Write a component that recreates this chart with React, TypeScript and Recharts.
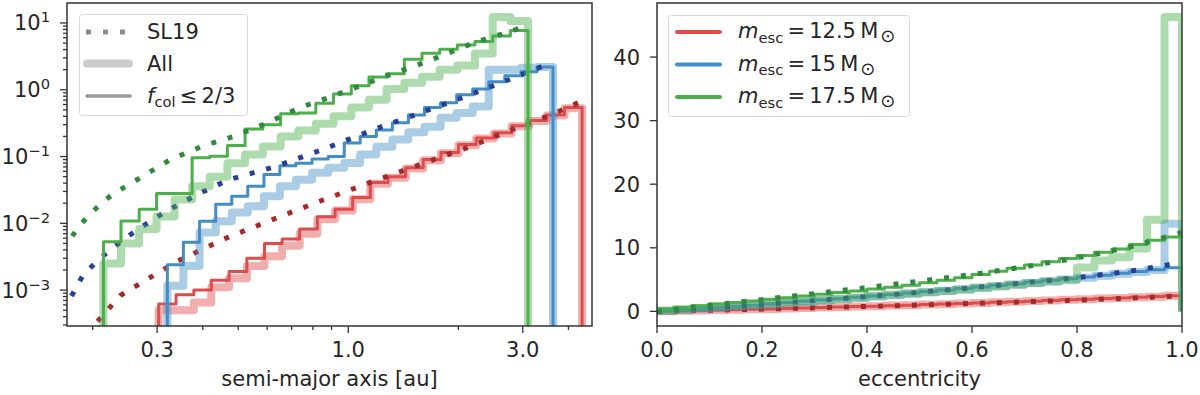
import React from "react";
import { LineChart, Line, XAxis, YAxis } from "recharts";

const FONT = "'DejaVu Sans', 'Liberation Sans', sans-serif";
const INK = "#262626";
const SPINE = "#333333";

const RED = "#de4c4c";
const RED_DARK = "#a32a2a";
const BLUE = "#428dc6";
const BLUE_DARK = "#283f99";
const GREEN = "#4caf4c";
const GREEN_DARK = "#2f8a3f";

// ---- left panel: semi-major axis histograms (log-log) ----
const RED_EDGES = [0.303, 0.338, 0.378, 0.422, 0.472, 0.528, 0.59, 0.659, 0.736, 0.823, 0.92, 1.028, 1.149, 1.284, 1.435, 1.603, 1.792, 2.002, 2.238, 2.501, 2.795, 3.123, 3.49, 3.901, 4.359];
const BLUE_EDGES = [0.32, 0.354, 0.392, 0.434, 0.48, 0.531, 0.588, 0.65, 0.719, 0.796, 0.881, 0.975, 1.078, 1.193, 1.32, 1.46, 1.616, 1.788, 1.979, 2.189, 2.422, 2.68, 2.966, 3.281, 3.631];
const GREEN_EDGES = [0.214, 0.239, 0.268, 0.299, 0.335, 0.374, 0.418, 0.467, 0.522, 0.584, 0.653, 0.73, 0.815, 0.911, 1.019, 1.139, 1.273, 1.423, 1.591, 1.778, 1.987, 2.221, 2.483, 2.776, 3.102];

const RED_ALL_A = [5.0e-4, 5.0e-4, 6.5e-4, 1.1e-3, 1.5e-3, 2.3e-3, 3.2e-3, 4.6e-3, 7.0e-3, 0.0115, 0.0155, 0.023, 0.039, 0.048, 0.066, 0.088, 0.112, 0.148, 0.186, 0.222, 0.285, 0.34, 0.41, 0.53];
const RED_COL_A = [6.2e-4, 8.5e-4, 1.0e-3, 1.4e-3, 1.9e-3, 3.0e-3, 5.0e-3, 5.8e-3, 8.2e-3, 0.0125, 0.0162, 0.0244, 0.041, 0.05, 0.068, 0.09, 0.115, 0.151, 0.19, 0.227, 0.29, 0.345, 0.42, 0.54];
const BLUE_ALL_A = [1.16e-3, 2.3e-3, 7.3e-3, 0.0107, 0.0145, 0.018, 0.0255, 0.036, 0.045, 0.057, 0.068, 0.08, 0.107, 0.14, 0.18, 0.23, 0.28, 0.38, 0.45, 0.56, 1.99, 1.99, 2.13, 2.2];
const BLUE_COL_A = [2.4e-3, 5.2e-3, 0.0107, 0.0193, 0.0255, 0.036, 0.054, 0.073, 0.079, 0.092, 0.1, 0.16, 0.2, 0.25, 0.32, 0.42, 0.54, 0.64, 0.84, 1.03, 1.32, 1.62, 1.86, 2.2];
const GREEN_ALL_A = [0.0025, 0.005, 0.0082, 0.0127, 0.0228, 0.036, 0.05, 0.079, 0.107, 0.141, 0.199, 0.245, 0.31, 0.4, 0.54, 0.71, 1.03, 1.27, 1.56, 1.99, 2.3, 3.5, 12.3, 10.7];
const GREEN_COL_A = [0.0053, 0.0108, 0.0162, 0.028, 0.028, 0.096, 0.101, 0.146, 0.259, 0.3, 0.438, 0.449, 0.63, 0.86, 1.15, 1.55, 1.73, 2.87, 3.53, 4.05, 4.69, 5.26, 6.39, 7.68];

const RED_SL19_X = [0.192, 0.203, 0.238, 0.288, 0.341, 0.456, 0.624, 0.839, 1.148, 1.573, 2.115, 2.896, 3.5, 4.26];
const RED_SL19_Y = [2.2e-4, 3.1e-4, 8.3e-4, 1.56e-3, 2.7e-3, 5.8e-3, 0.0115, 0.0216, 0.041, 0.076, 0.136, 0.27, 0.4, 0.64];
const BLUE_SL19_X = [0.165, 0.171, 0.189, 0.221, 0.262, 0.313, 0.386, 0.471, 0.639, 0.875, 1.173, 1.573, 2.153, 2.893, 3.564];
const BLUE_SL19_Y = [5.0e-4, 6.5e-4, 1.75e-3, 3.86e-3, 7.7e-3, 0.0144, 0.027, 0.045, 0.072, 0.135, 0.253, 0.449, 0.842, 1.58, 2.5];
const GREEN_SL19_X = [0.165, 0.17, 0.181, 0.194, 0.21, 0.226, 0.27, 0.326, 0.398, 0.486, 0.6, 0.732, 0.903, 1.223, 1.641, 2.249, 2.77, 3.08];
const GREEN_SL19_Y = [4.0e-3, 4.9e-3, 8.1e-3, 0.0128, 0.0193, 0.027, 0.048, 0.09, 0.142, 0.2, 0.318, 0.533, 0.794, 1.49, 2.64, 5.26, 7.4, 9.3];

const A_TICKS = [0.2, 0.3, 0.4, 0.5, 0.6, 0.7, 0.8, 0.9, 1, 2, 3, 4];
const A_MAJOR = [0.3, 1, 3];
const N_TICKS = [3e-4, 4e-4, 5e-4, 6e-4, 7e-4, 8e-4, 9e-4, 1e-3, 2e-3, 3e-3, 4e-3, 5e-3, 6e-3, 7e-3, 8e-3, 9e-3, 1e-2, 2e-2, 3e-2, 4e-2, 5e-2, 6e-2, 7e-2, 8e-2, 9e-2, 0.1, 0.2, 0.3, 0.4, 0.5, 0.6, 0.7, 0.8, 0.9, 1, 2, 3, 4, 5, 6, 7, 8, 9, 10];

// ---- right panel: eccentricity histograms ----
const E_EDGES = [0, 0.0333, 0.0667, 0.1, 0.1333, 0.1667, 0.2, 0.2333, 0.2667, 0.3, 0.3333, 0.3667, 0.4, 0.4333, 0.4667, 0.5, 0.5333, 0.5667, 0.6, 0.6333, 0.6667, 0.7, 0.7333, 0.7667, 0.8, 0.8333, 0.8667, 0.9, 0.9333, 0.9667, 1];
const RED_ALL_E = [0.03, 0.09, 0.13, 0.21, 0.25, 0.33, 0.38, 0.47, 0.52, 0.61, 0.66, 0.76, 0.81, 0.91, 0.97, 1.08, 1.14, 1.25, 1.32, 1.43, 1.5, 1.62, 1.7, 1.82, 1.9, 2.02, 2.11, 2.23, 2.32, 2.45];
const RED_COL_E = [0.03, 0.08, 0.14, 0.2, 0.26, 0.32, 0.39, 0.46, 0.53, 0.6, 0.67, 0.75, 0.82, 0.9, 0.98, 1.07, 1.15, 1.24, 1.33, 1.42, 1.51, 1.61, 1.71, 1.81, 1.91, 2.01, 2.12, 2.22, 2.33, 2.44];
const BLUE_ALL_E = [0.07, 0.24, 0.4, 0.58, 0.76, 0.94, 1.12, 1.3, 1.5, 1.7, 1.9, 2.1, 2.33, 2.55, 2.78, 3.0, 3.24, 3.48, 3.72, 3.97, 4.22, 4.48, 4.75, 5.02, 5.3, 5.6, 5.9, 6.2, 6.5, 13.8];
const BLUE_COL_E = [0.08, 0.26, 0.43, 0.61, 0.8, 0.98, 1.18, 1.38, 1.58, 1.78, 1.99, 2.21, 2.43, 2.66, 2.88, 3.12, 3.36, 3.6, 3.84, 4.09, 4.35, 4.61, 4.88, 5.15, 5.42, 5.7, 5.98, 6.26, 6.56, 6.85];
const GREEN_ALL_E = [0.15, 0.35, 0.55, 0.75, 0.9, 1.1, 1.25, 1.45, 1.6, 1.8, 2.0, 2.2, 2.4, 2.6, 2.8, 3.0, 3.2, 3.4, 3.7, 3.95, 4.2, 4.45, 4.7, 4.95, 6.9, 8.0, 8.5, 9.9, 14.4, 46.3];
const GREEN_COL_E = [0.35, 0.6, 0.9, 1.15, 1.4, 1.65, 1.9, 2.15, 2.4, 2.7, 2.95, 3.2, 3.5, 3.8, 4.1, 4.5, 4.9, 5.3, 5.8, 6.3, 6.8, 7.3, 7.8, 8.3, 8.8, 9.3, 9.8, 10.5, 11.2, 11.7];

const E_SL19_X = [0, 0.1, 0.2, 0.3, 0.4, 0.5, 0.6, 0.7, 0.8, 0.9, 1.0];
const RED_SL19_E = [0.0, 0.17, 0.36, 0.56, 0.78, 1.0, 1.24, 1.5, 1.78, 2.08, 2.45];
const BLUE_SL19_E = [0.0, 0.55, 1.1, 1.7, 2.32, 3.0, 3.72, 4.48, 5.3, 6.3, 7.7];
const GREEN_SL19_E = [0.0, 0.95, 1.85, 2.8, 3.75, 4.75, 5.8, 7.0, 8.4, 10.1, 12.4];

const E_TICKS = [0, 0.2, 0.4, 0.6, 0.8, 1];
const C_TICKS = [0, 10, 20, 30, 40];

type Pt = { x: number; y: number };

function stepSeries(edges: number[], vals: number[], floor: number): Pt[] {
  const pts: Pt[] = [{ x: edges[0], y: floor }];
  vals.forEach((v, i) => pts.push({ x: edges[i], y: v }));
  pts.push({ x: edges[edges.length - 1], y: vals[vals.length - 1] });
  pts.push({ x: edges[edges.length - 1], y: floor });
  return pts;
}

const zipPts = (xs: number[], ys: number[]): Pt[] => xs.map((x, i) => ({ x, y: ys[i] }));

const isDecade = (v: number) => Math.abs(Math.log10(v) - Math.round(Math.log10(v))) < 1e-9;
const expLabel = (v: number) => {
  const e = Math.round(Math.log10(v));
  return e < 0 ? `\u2212${-e}` : `${e}`;
};

function LogXTick(props: any) {
  const { x, y, payload } = props;
  const v = payload.value;
  const major = A_MAJOR.includes(v);
  return (
    <g>
      <line x1={x} x2={x} y1={y} y2={y + (major ? 7 : 4)} stroke={SPINE} strokeWidth={1.3} />
      {major && (
        <text x={x} y={y + 31} textAnchor="middle" fill={INK} fontSize={21} fontFamily={FONT}>
          {v.toFixed(1)}
        </text>
      )}
    </g>
  );
}

function LogYTick(props: any) {
  const { x, y, payload } = props;
  const v = payload.value;
  const major = isDecade(v);
  return (
    <g>
      <line x1={x - (major ? 7 : 4)} x2={x} y1={y} y2={y} stroke={SPINE} strokeWidth={1.3} />
      {major && (
        <text x={x - 17} y={y + 7.5} textAnchor="end" fill={INK} fontSize={21} fontFamily={FONT}>
          <tspan>10</tspan>
          <tspan dy={-8} fontSize={14.7}>{expLabel(v)}</tspan>
        </text>
      )}
    </g>
  );
}

function LinXTick(props: any) {
  const { x, y, payload } = props;
  return (
    <g>
      <line x1={x} x2={x} y1={y} y2={y + 7} stroke={SPINE} strokeWidth={1.3} />
      <text x={x} y={y + 31} textAnchor="middle" fill={INK} fontSize={21} fontFamily={FONT}>
        {payload.value.toFixed(1)}
      </text>
    </g>
  );
}

function LinYTick(props: any) {
  const { x, y, payload } = props;
  return (
    <g>
      <line x1={x - 7} x2={x} y1={y} y2={y} stroke={SPINE} strokeWidth={1.3} />
      <text x={x - 17} y={y + 7.5} textAnchor="end" fill={INK} fontSize={21} fontFamily={FONT}>
        {payload.value}
      </text>
    </g>
  );
}

type Series = { key: string; data: Pt[]; kind: "all" | "col" | "sl19"; color: string; step: boolean };

function renderLine(s: Series) {
  const base = {
    key: s.key,
    data: s.data,
    dataKey: "y",
    dot: false,
    activeDot: false,
    isAnimationActive: false,
    type: s.step ? ("stepAfter" as const) : ("linear" as const),
    stroke: s.color,
    strokeLinejoin: "round" as const,
  };
  if (s.kind === "all") return <Line {...base} strokeWidth={8} strokeOpacity={0.45} />;
  if (s.kind === "col") return <Line {...base} strokeWidth={3} />;
  return <Line {...base} strokeWidth={5} strokeDasharray="5 12" />;
}

const FLOOR_LOG = 1e-5;

const leftSeries: Series[] = [
  { key: "rA", data: stepSeries(RED_EDGES, RED_ALL_A, FLOOR_LOG), kind: "all", color: RED, step: true },
  { key: "rC", data: stepSeries(RED_EDGES, RED_COL_A, FLOOR_LOG), kind: "col", color: RED, step: true },
  { key: "rS", data: zipPts(RED_SL19_X, RED_SL19_Y), kind: "sl19", color: RED_DARK, step: false },
  { key: "bA", data: stepSeries(BLUE_EDGES, BLUE_ALL_A, FLOOR_LOG), kind: "all", color: BLUE, step: true },
  { key: "bC", data: stepSeries(BLUE_EDGES, BLUE_COL_A, FLOOR_LOG), kind: "col", color: BLUE, step: true },
  { key: "bS", data: zipPts(BLUE_SL19_X, BLUE_SL19_Y), kind: "sl19", color: BLUE_DARK, step: false },
  { key: "gA", data: stepSeries(GREEN_EDGES, GREEN_ALL_A, FLOOR_LOG), kind: "all", color: GREEN, step: true },
  { key: "gC", data: stepSeries(GREEN_EDGES, GREEN_COL_A, FLOOR_LOG), kind: "col", color: GREEN, step: true },
  { key: "gS", data: zipPts(GREEN_SL19_X, GREEN_SL19_Y), kind: "sl19", color: GREEN_DARK, step: false },
];

const rightSeries: Series[] = [
  { key: "rA", data: stepSeries(E_EDGES, RED_ALL_E, 0), kind: "all", color: RED, step: true },
  { key: "rC", data: stepSeries(E_EDGES, RED_COL_E, 0), kind: "col", color: RED, step: true },
  { key: "rS", data: zipPts(E_SL19_X, RED_SL19_E), kind: "sl19", color: RED_DARK, step: false },
  { key: "bA", data: stepSeries(E_EDGES, BLUE_ALL_E, 0), kind: "all", color: BLUE, step: true },
  { key: "bC", data: stepSeries(E_EDGES, BLUE_COL_E, 0), kind: "col", color: BLUE, step: true },
  { key: "bS", data: zipPts(E_SL19_X, BLUE_SL19_E), kind: "sl19", color: BLUE_DARK, step: false },
  { key: "gA", data: stepSeries(E_EDGES, GREEN_ALL_E, 0), kind: "all", color: GREEN, step: true },
  { key: "gC", data: stepSeries(E_EDGES, GREEN_COL_E, 0), kind: "col", color: GREEN, step: true },
  { key: "gS", data: zipPts(E_SL19_X, GREEN_SL19_E), kind: "sl19", color: GREEN_DARK, step: false },
];

const MASS_LABELS = ["12.5", "15", "17.5"];
const MASS_COLORS = [RED, BLUE, GREEN];

function Overlay() {
  const txt = { fill: INK, fontSize: 21, fontFamily: FONT };
  return (
    <svg width={1200} height={395} style={{ position: "absolute", left: 0, top: 0, pointerEvents: "none" }}>
      <rect x={67} y={3} width={525} height={323} fill="none" stroke={SPINE} strokeWidth={1.5} />
      <rect x={657} y={3} width={525} height={323} fill="none" stroke={SPINE} strokeWidth={1.5} />

      {/* left legend */}
      <rect x={79.5} y={14.5} width={168} height={101} rx={3} fill="#ffffff" fillOpacity={0.8} stroke="#d9d9d9" />
      <line x1={86} x2={128} y1={32} y2={32} stroke="#8c8c8c" strokeWidth={5} strokeDasharray="5 12" />
      <line x1={87} x2={129} y1={63.5} y2={63.5} stroke="#cccccc" strokeWidth={8} strokeLinecap="round" />
      <line x1={87} x2={130} y1={96} y2={96} stroke="#9a9a9a" strokeWidth={3.5} strokeLinecap="round" />
      <text x={147} y={38.5} {...txt}>SL19</text>
      <text x={147} y={70.5} {...txt}>All</text>
      <text x={147} y={102.5} {...txt}>
        <tspan fontStyle="italic">f</tspan>
        <tspan dy={4.5} fontSize={14.7}>col</tspan>
        <tspan dy={-4.5}>{"\u2009\u2264\u20092/3"}</tspan>
      </text>

      {/* right legend */}
      <rect x={668.5} y={15.5} width={241} height={101} rx={3} fill="#ffffff" fillOpacity={0.8} stroke="#d9d9d9" />
      {MASS_LABELS.map((m, i) => {
        const ly = 32 + i * 32.5;
        return (
          <g key={m}>
            <line x1={677} x2={720} y1={ly} y2={ly} stroke={MASS_COLORS[i]} strokeWidth={4} strokeLinecap="round" />
            <text x={738} y={ly + 6} {...txt}>
              <tspan fontStyle="italic">m</tspan>
              <tspan dy={4.5} fontSize={14.7}>esc</tspan>
              <tspan dy={-4.5}>{`\u2009=\u2009${m}\u2009M`}</tspan>
              <tspan dx={2} dy={4} fontSize={18}>{"\u2299"}</tspan>
            </text>
          </g>
        );
      })}

      <text x={329.5} y={386} textAnchor="middle" {...txt}>semi-major axis [au]</text>
      <text x={919.5} y={386} textAnchor="middle" {...txt}>eccentricity</text>
    </svg>
  );
}

export default function App() {
  return (
    <div style={{ position: "relative", width: 1200, height: 395, background: "#ffffff" }}>
      <style>{"body{margin:0}"}</style>
      <div style={{ position: "absolute", left: 0, top: 0 }}>
        <LineChart width={600} height={395} margin={{ top: 3, right: 8, bottom: 0, left: 0 }}>
          <XAxis
            type="number"
            dataKey="x"
            scale="log"
            domain={[0.1701, 4.64]}
            allowDataOverflow
            ticks={A_TICKS}
            interval={0}
            tickSize={0}
            tickMargin={0}
            tickLine={false}
            axisLine={false}
            height={69}
            tick={(p: any) => <LogXTick {...p} />}
          />
          <YAxis
            type="number"
            scale="log"
            domain={[2.9e-4, 19.9]}
            allowDataOverflow
            ticks={N_TICKS}
            interval={0}
            tickSize={0}
            tickMargin={0}
            tickLine={false}
            axisLine={false}
            width={67}
            tick={(p: any) => <LogYTick {...p} />}
          />
          {leftSeries.map(renderLine)}
        </LineChart>
      </div>
      <div style={{ position: "absolute", left: 600, top: 0 }}>
        <LineChart width={600} height={395} margin={{ top: 3, right: 18, bottom: 0, left: 0 }}>
          <XAxis
            type="number"
            dataKey="x"
            domain={[0, 1]}
            allowDataOverflow
            ticks={E_TICKS}
            interval={0}
            tickSize={0}
            tickMargin={0}
            tickLine={false}
            axisLine={false}
            height={69}
            tick={(p: any) => <LinXTick {...p} />}
          />
          <YAxis
            type="number"
            domain={[-2.3, 48.5]}
            allowDataOverflow
            ticks={C_TICKS}
            interval={0}
            tickSize={0}
            tickMargin={0}
            tickLine={false}
            axisLine={false}
            width={57}
            tick={(p: any) => <LinYTick {...p} />}
          />
          {rightSeries.map(renderLine)}
        </LineChart>
      </div>
      <Overlay />
    </div>
  );
}
